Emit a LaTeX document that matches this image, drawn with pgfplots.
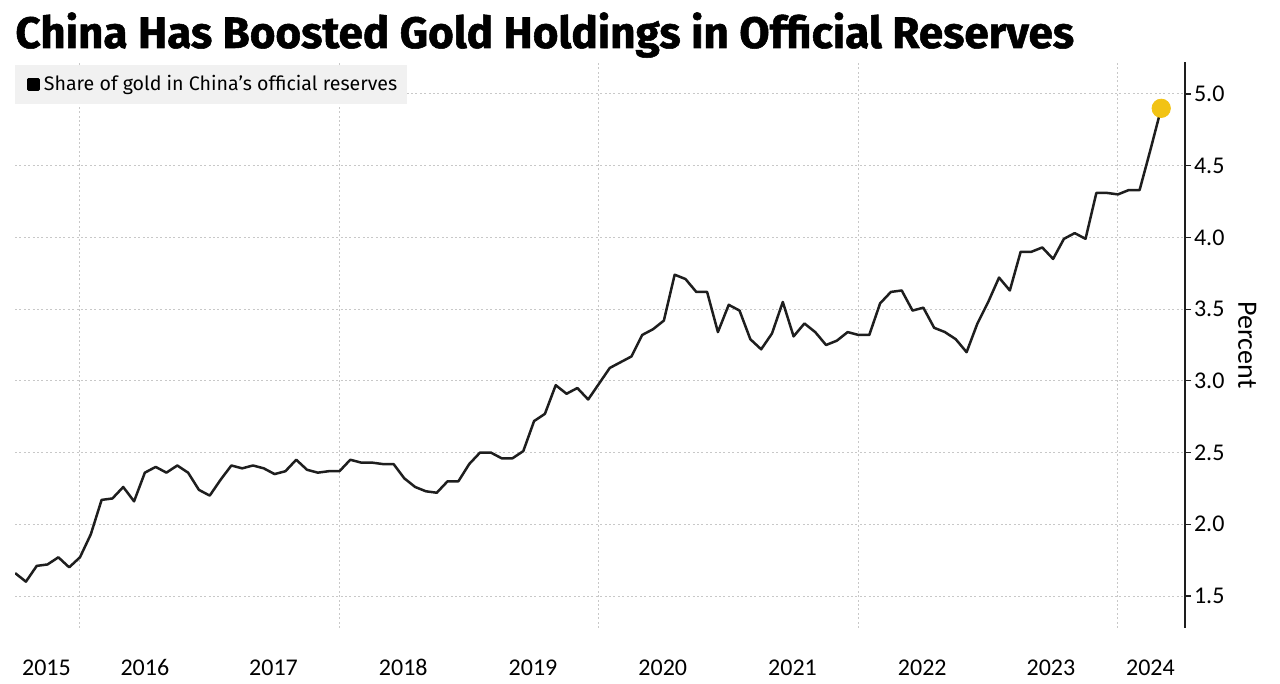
\documentclass[border=0pt]{standalone}
\usepackage{pgfplots}
\pgfplotsset{compat=1.18}
\usepackage{fontspec}
\setmainfont{Carlito}
\newfontfamily\titlefont{Fira Sans}[BoldFeatures={FakeBold=1.2}]
\definecolor{gridgray}{HTML}{C8C8C8}
\definecolor{legendbg}{HTML}{F1F1F1}
\definecolor{dotyellow}{HTML}{F2C314}
\definecolor{linecol}{HTML}{1E1E1E}

% monthly share of gold in reserves, month 0 = Jan 2016
\pgfplotstableread{
m val
-6 1.66
-5 1.60
-4 1.71
-3 1.72
-2 1.77
-1 1.70
0 1.77
1 1.93
2 2.17
3 2.18
4 2.26
5 2.16
6 2.36
7 2.40
8 2.36
9 2.41
10 2.36
11 2.24
12 2.20
13 2.31
14 2.41
15 2.39
16 2.41
17 2.39
18 2.35
19 2.37
20 2.45
21 2.38
22 2.36
23 2.37
24 2.37
25 2.45
26 2.43
27 2.43
28 2.42
29 2.42
30 2.32
31 2.26
32 2.23
33 2.22
34 2.30
35 2.30
36 2.42
37 2.50
38 2.50
39 2.46
40 2.46
41 2.51
42 2.72
43 2.77
44 2.97
45 2.91
46 2.95
47 2.87
48 2.98
49 3.09
50 3.13
51 3.17
52 3.32
53 3.36
54 3.42
55 3.74
56 3.71
57 3.62
58 3.62
59 3.34
60 3.53
61 3.49
62 3.29
63 3.22
64 3.33
65 3.55
66 3.31
67 3.40
68 3.34
69 3.25
70 3.28
71 3.34
72 3.32
73 3.32
74 3.54
75 3.62
76 3.63
77 3.49
78 3.51
79 3.37
80 3.34
81 3.29
82 3.20
83 3.40
84 3.55
85 3.72
86 3.63
87 3.90
88 3.90
89 3.93
90 3.85
91 3.99
92 4.03
93 3.99
94 4.31
95 4.31
96 4.30
97 4.33
98 4.33
99 4.61
100 4.90
}\goldshare

\begin{document}
\begin{tikzpicture}
\useasboundingbox (0,0) rectangle (640pt,342pt);

\node[anchor=base west, inner sep=0pt, font=\titlefont\bfseries\fontsize{22pt}{26pt}\selectfont]
  at (7.5pt,318pt) {China Has Boosted Gold Holdings in Official Reserves};

\begin{axis}[
	at={(7.5pt,28pt)}, anchor=south west,
	scale only axis,
	width=585pt, height=283pt,
	xmin=-6.01, xmax=102.2,
	ymin=1.277, ymax=5.223,
	axis x line*=bottom,
	x axis line style={draw=none},
	axis y line*=right,
	y axis line style={linecol, line width=0.6pt, -},
	xtick={-3.1,6,17.9,29.9,41.9,53.9,65.9,77.9,89.8,99},
	xticklabels={2015,2016,2017,2018,2019,2020,2021,2022,2023,2024},
	xtick style={draw=none},
	xticklabel style={font=\fontsize{12pt}{14pt}\selectfont, anchor=base, yshift=-21pt},
	extra x ticks={0,24,48,72,96},
	extra x tick labels={},
	extra x tick style={grid=major, major tick length=0pt},
	ytick={1.5,2,2.5,3,3.5,4,4.5,5},
	yticklabel pos=right,
	yticklabel style={font=\fontsize{12pt}{14pt}\selectfont, anchor=west, xshift=-2pt,
		/pgf/number format/.cd, fixed, fixed zerofill, precision=1, assume math mode=true},
	ytick style={linecol, line width=0.6pt},
	major tick length=3pt,
	tick align=outside,
	ymajorgrids,
	grid style={gridgray, line width=0.5pt, dash pattern=on 1pt off 1.2pt},
	ylabel={Percent},
	ylabel style={rotate=180, font=\fontsize{14pt}{16pt}\selectfont},
	legend style={at={(0,1)}, anchor=north west, yshift=-1.5pt,
		fill=legendbg, draw=none, inner xsep=3pt, inner ysep=3pt,
		font=\titlefont\fontsize{9.8pt}{11pt}\selectfont},
	legend image code/.code={\path (0pt,0pt); \fill[black] (3pt,-2.5pt) rectangle (8pt,2.5pt);},
	legend cell align=left,
]
\addplot[only marks, mark=*, mark size=4.6pt, color=dotyellow, forget plot]
	coordinates {(100,4.90)};
\addplot[linecol, line width=1.25pt, line join=round] table[x=m, y=val] {\goldshare};
\addlegendentry{Share of gold in China’s official reserves}
\end{axis}
\end{tikzpicture}
\end{document}
